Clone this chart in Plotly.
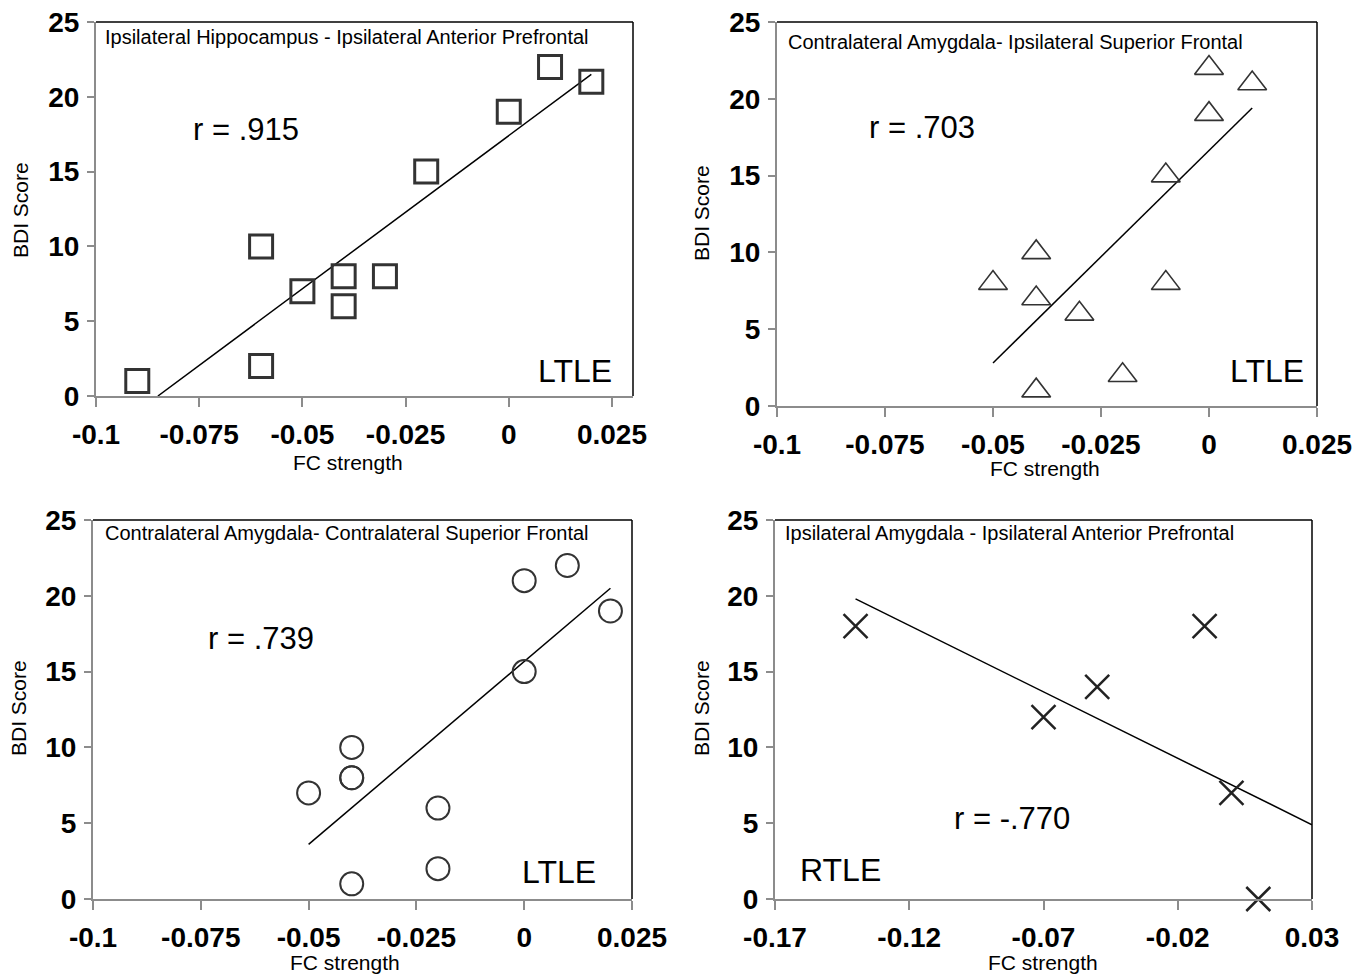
import plotly.graph_objects as go

# page body has an 8px margin; figure covers the rest of the 1369x977 window
OFF = 8
W, H = 1369 - OFF, 977 - OFF

# ---------------- data ----------------
p1_x = [-0.09, -0.06, -0.06, -0.05, -0.04, -0.04, -0.03, -0.02, 0.0, 0.01, 0.02]
p1_y = [1, 2, 10, 7, 8, 6, 8, 15, 19, 22, 21]
p1_fit_x = [-0.085, 0.02]
p1_fit_y = [0, 21.5]

p2_x = [-0.05, -0.04, -0.04, -0.04, -0.03, -0.02, -0.01, -0.01, 0.0, 0.0, 0.01]
p2_y = [8, 10, 7, 1, 6, 2, 8, 15, 19, 22, 21]
p2_fit_x = [-0.05, 0.01]
p2_fit_y = [2.8, 19.4]

p3_x = [-0.05, -0.04, -0.04, -0.04, -0.04, -0.02, -0.02, 0.0, 0.0, 0.01, 0.02]
p3_y = [7, 10, 8, 8, 1, 6, 2, 15, 21, 22, 19]
p3_fit_x = [-0.05, 0.02]
p3_fit_y = [3.6, 20.5]

p4_x = [-0.14, -0.07, -0.05, -0.01, 0.0, 0.01]
p4_y = [18, 12, 14, 18, 7, 0]
p4_fit_x = [-0.14, 0.03]
p4_fit_y = [19.8, 4.9]

x_ticks_ltle = [-0.1, -0.075, -0.05, -0.025, 0, 0.025]
x_ticktext_ltle = ["-0.1", "-0.075", "-0.05", "-0.025", "0", "0.025"]
x_ticks_rtle = [-0.17, -0.12, -0.07, -0.02, 0.03]
x_ticktext_rtle = ["-0.17", "-0.12", "-0.07", "-0.02", "0.03"]
y_ticks = [0, 5, 10, 15, 20, 25]

titles = [
    "Ipsilateral Hippocampus - Ipsilateral Anterior Prefrontal",
    "Contralateral Amygdala- Ipsilateral Superior Frontal",
    "Contralateral Amygdala- Contralateral Superior Frontal",
    "Ipsilateral Amygdala - Ipsilateral Anterior Prefrontal",
]
r_labels = ["r = .915", "r = .703", "r = .739", "r = -.770"]
group_labels = ["LTLE", "LTLE", "LTLE", "RTLE"]

# ---------------- layout helpers (window pixels -> paper fractions) ----------------
def px(x):
    return (x - OFF) / W

def py(y):
    return 1 - (y - OFF) / H

FONT = "Liberation Sans, Arial, sans-serif"
AXC = "#8c8c8c"
tickfont = dict(family=FONT, size=28, color="black", weight="bold")

panels = [
    ((96, 633), (22, 396), [-0.1, 0.0301], x_ticks_ltle, x_ticktext_ltle),
    ((777, 1317), (22, 406), [-0.1, 0.025], x_ticks_ltle, x_ticktext_ltle),
    ((93, 632), (520, 899), [-0.1, 0.025], x_ticks_ltle, x_ticktext_ltle),
    ((775, 1312), (520, 899), [-0.17, 0.03], x_ticks_rtle, x_ticktext_rtle),
]

fig = go.Figure()

series = [
    (p1_x, p1_y, p1_fit_x, p1_fit_y, dict(symbol="square-open", size=23, color="#333333", line=dict(width=3, color="#333333"))),
    (p2_x, p2_y, p2_fit_x, p2_fit_y, dict(symbol="triangle-up-open", size=25, color="#333333", line=dict(width=1.6, color="#333333"))),
    (p3_x, p3_y, p3_fit_x, p3_fit_y, dict(symbol="circle-open", size=23, color="#333333", line=dict(width=2, color="#333333"))),
    (p4_x, p4_y, p4_fit_x, p4_fit_y, dict(symbol="x-thin-open", size=24, color="#222222", line=dict(width=2.5, color="#222222"))),
]

layout_axes = {}
shapes = []
for i, ((x0, x1), (yt, yb), xr, xt, xtt) in enumerate(panels):
    n = i + 1
    xa = "xaxis" if n == 1 else f"xaxis{n}"
    ya = "yaxis" if n == 1 else f"yaxis{n}"
    xr_ref = "x" if n == 1 else f"x{n}"
    yr_ref = "y" if n == 1 else f"y{n}"
    layout_axes[xa] = dict(
        domain=[px(x0), px(x1)], range=xr, anchor=yr_ref,
        tickmode="array", tickvals=xt, ticktext=xtt,
        showline=True, linecolor=AXC, linewidth=2,
        ticks="outside", ticklen=9, tickwidth=2, tickcolor=AXC,
        showgrid=False, zeroline=False, tickfont=tickfont,
        ticklabelstandoff=3, automargin=False, ticklabeloverflow="allow",
    )
    layout_axes[ya] = dict(
        domain=[py(yb), py(yt)], range=[0, 25], anchor=xr_ref,
        tickmode="array", tickvals=y_ticks,
        showline=True, linecolor=AXC, linewidth=2,
        ticks="outside", ticklen=7, tickwidth=2, tickcolor=AXC,
        showgrid=False, zeroline=False, tickfont=tickfont,
        ticklabelstandoff=2, automargin=False, ticklabeloverflow="allow",
    )
    shapes.append(dict(type="line", xref=f"{xr_ref} domain", yref=f"{yr_ref} domain",
                       x0=0, x1=1, y0=1, y1=1, line=dict(color="black", width=1.5)))
    shapes.append(dict(type="line", xref=f"{xr_ref} domain", yref=f"{yr_ref} domain",
                       x0=1, x1=1, y0=0, y1=1, line=dict(color="black", width=1.5)))

    sx, sy, fx, fy, mk = series[i]
    fig.add_trace(go.Scatter(x=fx, y=fy, mode="lines", line=dict(color="black", width=1.5),
                             xaxis=xr_ref, yaxis=yr_ref, showlegend=False, hoverinfo="skip"))
    fig.add_trace(go.Scatter(x=sx, y=sy, mode="markers", marker=mk, cliponaxis=False,
                             xaxis=xr_ref, yaxis=yr_ref, showlegend=False))

annotations = []
def ann(text, x, y, size, xanchor="center", angle=0, weight="normal"):
    annotations.append(dict(text=text, x=px(x), y=py(y), xref="paper", yref="paper",
                            xanchor=xanchor, yanchor="middle", showarrow=False, textangle=angle,
                            font=dict(family=FONT, size=size, color="black", weight=weight)))

sub_pos = [(103, 37), (786, 42), (103, 533), (783, 533)]
for t, (x, y) in zip(titles, sub_pos):
    ann(t, x, y, 20, xanchor="left")
r_pos = [(246, 130), (922, 128), (261, 638), (1012, 818)]
for t, (x, y) in zip(r_labels, r_pos):
    ann(t, x, y, 31)
g_pos = [(575, 371), (1267, 371), (559, 872), (840, 870)]
for t, (x, y) in zip(group_labels, g_pos):
    ann(t, x, y, 32)
fc_pos = [(348, 463), (1045, 468), (345, 962), (1043, 962)]
for (x, y) in fc_pos:
    ann("FC strength", x, y, 21)
bdi_pos = [(20, 210), (701, 213), (18, 708), (701, 708)]
for (x, y) in bdi_pos:
    ann("BDI Score", x, y, 21, angle=-90)

fig.update_layout(
    width=W, height=H,
    margin=dict(l=0, r=0, t=0, b=0),
    paper_bgcolor="white", plot_bgcolor="white",
    showlegend=False,
    shapes=shapes, annotations=annotations,
    **layout_axes,
)

fig.write_html("out.html")
